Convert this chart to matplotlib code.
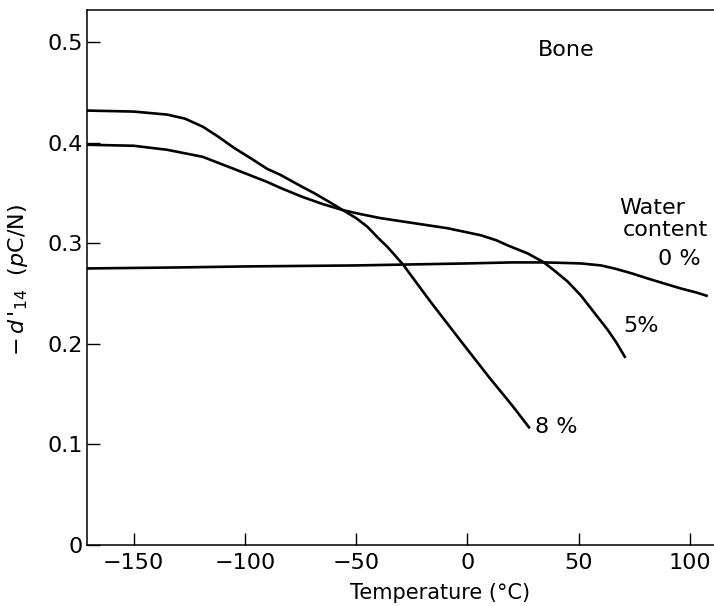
import matplotlib
matplotlib.use("Agg")
import matplotlib.pyplot as plt

# 읽어낸 데이터 (온도 °C, -d14' pC/N)
temp_0 = [-171, -130, -100, -50, 0, 20, 35, 51, 60, 66, 74, 81, 90, 96, 103, 108]
d14_0 = [0.275, 0.276, 0.277, 0.278, 0.280, 0.281, 0.281, 0.280, 0.278, 0.275, 0.270, 0.265, 0.259, 0.255, 0.251, 0.2475]

temp_5 = [-171, -150, -135, -119, -105, -90, -84, -74, -65, -56, -48, -39, -24, -9, 6, 13, 18, 27, 34, 39, 45, 51, 57, 63, 67, 71]
d14_5 = [0.398, 0.397, 0.393, 0.386, 0.374, 0.361, 0.355, 0.346, 0.339, 0.333, 0.329, 0.325, 0.320, 0.315, 0.308, 0.303, 0.298, 0.290, 0.2815, 0.273, 0.262, 0.248, 0.231, 0.214, 0.201, 0.186]

temp_8 = [-171, -150, -135, -127, -119, -112, -105, -97, -90, -84, -75, -69, -62, -56, -50, -45, -40, -36, -29, -17, -2, 10, 20, 28]
d14_8 = [0.432, 0.431, 0.428, 0.424, 0.416, 0.406, 0.395, 0.384, 0.374, 0.368, 0.357, 0.350, 0.341, 0.333, 0.325, 0.3165, 0.305, 0.2965, 0.279, 0.243, 0.200, 0.166, 0.139, 0.116]

x_ticks = [-150, -100, -50, 0, 50, 100]
y_ticks = [0, 0.1, 0.2, 0.3, 0.4, 0.5]
y_tick_labels = ['0', '0.1', '0.2', '0.3', '0.4', '0.5']

plt.rcParams['font.family'] = ['DejaVu Sans']

fig = plt.figure(figsize=(7.14, 6.06), dpi=100)
ax = fig.add_axes([87 / 714, 1 - 545 / 606, 1 - 87 / 714 + 0.01, (545 - 10) / 606])

for t, d in [(temp_0, d14_0), (temp_5, d14_5), (temp_8, d14_8)]:
    ax.plot(t, d, color='black', linewidth=1.9, solid_capstyle='butt', solid_joinstyle='round')

ax.set_xlim(-171, 114)
ax.set_ylim(0, 0.532)
ax.set_xticks(x_ticks)
ax.set_yticks(y_ticks)
ax.set_yticklabels(y_tick_labels)
ax.tick_params(direction='in', length=9, width=1.0, labelsize=16, colors='black')
ax.tick_params(axis='x', pad=6)
ax.tick_params(axis='y', pad=3)
ax.spines['right'].set_visible(False)
for s in ['left', 'bottom', 'top']:
    ax.spines[s].set_linewidth(1.1)

# 주석 텍스트
ax.text(31.5, 0.492, 'Bone', fontsize=16, ha='left', va='center')
ax.text(83, 0.335, 'Water', fontsize=16, ha='center', va='center')
ax.text(89, 0.313, 'content', fontsize=16, ha='center', va='center')
ax.text(85.5, 0.284, '0 %', fontsize=16, ha='left', va='center')
ax.text(70, 0.218, '5%', fontsize=16, ha='left', va='center')
ax.text(30.5, 0.117, '8 %', fontsize=16, ha='left', va='center')

fig.text(440 / 714, 1 - 599 / 606, 'Temperature (°C)', fontsize=15, ha='center', va='baseline')
fig.text(18 / 714, 1 - 280 / 606, r"$-\,d\,'_{14}$  ($p$C/N)", fontsize=16, rotation=90, ha='center', va='center')

fig.savefig('out.png', dpi=100)
